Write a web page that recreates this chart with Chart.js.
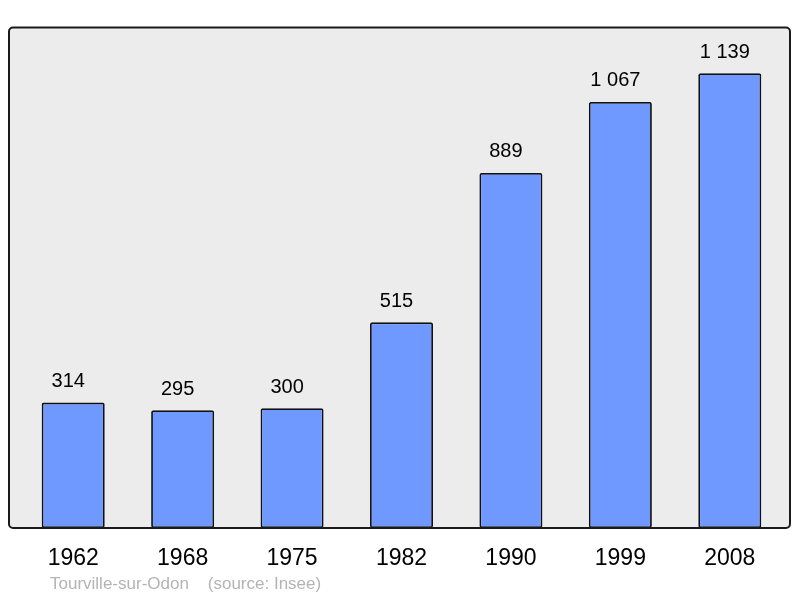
<!DOCTYPE html>
<html>
<head>
<meta charset="utf-8">
<script src="https://cdn.jsdelivr.net/npm/chart.js@4"></script>
<style>
  body { margin: 0; background: #fff; }
  #wrap { width: 800px; height: 598px; }
</style>
</head>
<body>
<div id="wrap"><canvas id="myChart" width="800" height="598"></canvas></div>
<script>
var years = ["1962", "1968", "1975", "1982", "1990", "1999", "2008"];
var population = [314, 295, 300, 515, 889, 1067, 1139];
var yMax = 1252;
var footer = "Tourville-sur-Odon    (source: Insee)";

function fmt(v) {
  return String(v).replace(/\B(?=(\d{3})+(?!\d))/g, " ");
}

// grey panel with a dark border behind the bars
var panel = {
  id: 'panel',
  beforeDraw: function(chart) {
    var ctx = chart.ctx, a = chart.chartArea;
    var x0 = 9, x1 = 790, y0 = 27.5, y1 = a.bottom;
    ctx.save();
    ctx.beginPath();
    ctx.roundRect(x0, y0, x1 - x0, y1 - y0, 4);
    ctx.fillStyle = "#ececec";
    ctx.fill();
    ctx.restore();
  },
  afterDatasetsDraw: function(chart) {
    var ctx = chart.ctx, a = chart.chartArea;
    var x0 = 9, x1 = 790, y0 = 27.5, y1 = a.bottom;
    ctx.save();
    ctx.beginPath();
    ctx.roundRect(x0, y0, x1 - x0, y1 - y0, 4);
    ctx.lineWidth = 2;
    ctx.strokeStyle = "#1a1a1a";
    ctx.stroke();

    // values over bars
    ctx.fillStyle = "#000";
    ctx.font = "20px 'Liberation Sans', Arial, sans-serif";
    ctx.textAlign = "center";
    ctx.textBaseline = "middle";
    chart.getDatasetMeta(0).data.forEach(function(bar, i) {
      ctx.fillText(fmt(population[i]), bar.x - 5, bar.y - 21);
    });

    // footer
    ctx.fillStyle = "#b4b4b4";
    ctx.font = "17px 'Liberation Sans', Arial, sans-serif";
    ctx.textAlign = "left";
    ctx.fillText(footer, 50, 584);
    ctx.restore();
  }
};

var chart = new Chart(document.getElementById("myChart"), {
  type: 'bar',
  data: {
    labels: years,
    datasets: [{
      data: population,
      backgroundColor: "#7099ff",
      borderColor: "#111",
      borderWidth: 1.8,
      borderRadius: 2,
      borderSkipped: false,
      barPercentage: 0.576,
      categoryPercentage: 1
    }]
  },
  options: {
    responsive: false,
    animation: false,
    layout: { padding: { left: 18.5, right: 15.5, top: 28, bottom: 0 } },
    plugins: {
      legend: { display: false },
      tooltip: { enabled: false }
    },
    scales: {
      x: {
        grid: { display: false, drawTicks: false },
        border: { display: false },
        ticks: {
          color: "#000",
          padding: 17,
          font: { size: 23, family: "'Liberation Sans', Arial, sans-serif" }
        },
        afterFit: function(scale) { scale.height = 70; }
      },
      y: {
        display: false,
        min: 0,
        max: yMax
      }
    }
  },
  plugins: [panel]
});
</script>
</body>
</html>
